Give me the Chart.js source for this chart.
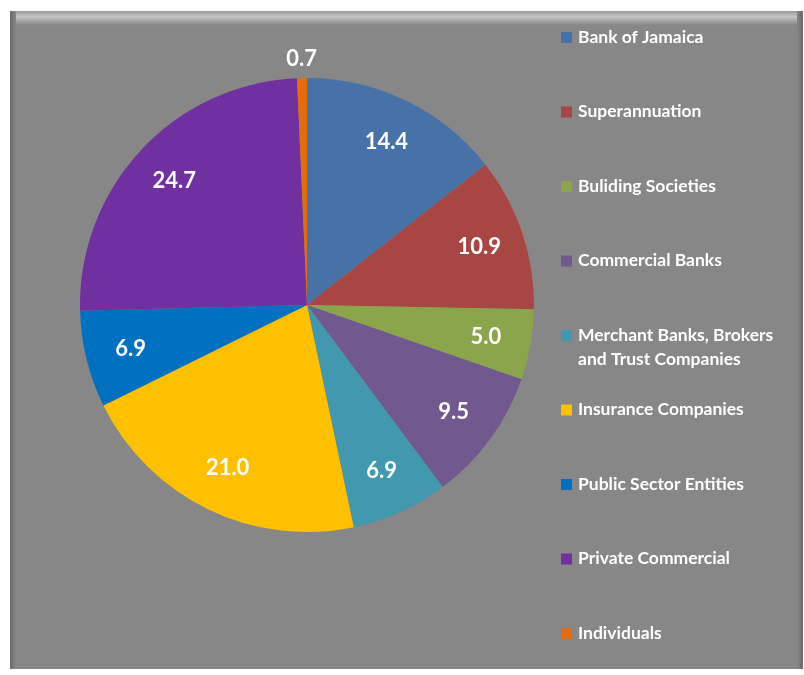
<!DOCTYPE html>
<html>
<head>
<meta charset="utf-8">
<script src="https://cdn.jsdelivr.net/npm/chart.js@4.4.0/dist/chart.umd.min.js"></script>
<style>
  html, body { margin: 0; padding: 0; background: #fff; }
  #wrap { width: 804px; height: 675px; position: relative; }
</style>
</head>
<body>
<div id="wrap"><canvas id="pie" width="804" height="675"></canvas></div>
<script>
// --- chart data ---
const categories = ['Bank of Jamaica', 'Superannuation', 'Buliding Societies', 'Commercial Banks',
    'Merchant Banks, Brokers\nand Trust Companies', 'Insurance Companies', 'Public Sector Entities',
    'Private Commercial', 'Individuals'];
const shares = [14.4, 10.9, 5.0, 9.5, 6.9, 21.0, 6.9, 24.7, 0.7];
const sliceColors = ['#4672A8', '#A84644', '#8BA54A', '#71588F', '#4298AE', '#FFC000', '#0070C0', '#7030A0', '#E46C0A'];

const FONT = 'Lato, "Open Sans", sans-serif';

// grey bevelled panel behind everything
const panelPlugin = {
    id: 'panel',
    beforeDraw(chart) {
        const ctx = chart.ctx;
        ctx.save();
        ctx.fillStyle = '#ffffff';
        ctx.fillRect(0, 0, chart.width, chart.height);
        const x0 = 10, y0 = 11, x1 = 803, y1 = 669;
        ctx.fillStyle = '#878787';
        ctx.fillRect(x0, y0, x1 - x0, y1 - y0);
        // top highlight
        let g = ctx.createLinearGradient(0, y0, 0, y0 + 14);
        g.addColorStop(0, '#9a9a9a');
        g.addColorStop(0.4, '#c4c4c4');
        g.addColorStop(1, '#878787');
        ctx.fillStyle = g;
        ctx.fillRect(x0 + 6, y0, x1 - x0 - 12, 14);
        // left shade
        g = ctx.createLinearGradient(x0, 0, x0 + 6, 0);
        g.addColorStop(0, '#6a6a6a');
        g.addColorStop(1, '#878787');
        ctx.fillStyle = g;
        ctx.fillRect(x0, y0, 6, y1 - y0);
        // right shade
        g = ctx.createLinearGradient(x1 - 6, 0, x1, 0);
        g.addColorStop(0, '#878787');
        g.addColorStop(1, '#6a6a6a');
        ctx.fillStyle = g;
        ctx.fillRect(x1 - 6, y0, 6, y1 - y0);
        ctx.restore();
    }
};

// value labels on the slices
const valueLabelPlugin = {
    id: 'valueLabels',
    afterDatasetsDraw(chart) {
        const ctx = chart.ctx;
        const arcs = chart.getDatasetMeta(0).data;
        ctx.save();
        ctx.font = 'bold 22px ' + FONT;
        ctx.fillStyle = '#ffffff';
        ctx.textAlign = 'center';
        ctx.textBaseline = 'middle';
        arcs.forEach((arc, i) => {
            const p = arc.getProps(['x', 'y', 'startAngle', 'endAngle', 'outerRadius'], true);
            const mid = (p.startAngle + p.endAngle) / 2;
            const r = shares[i] < 2 ? p.outerRadius + 19 : p.outerRadius * 0.8;
            ctx.fillText(shares[i].toFixed(1), p.x + Math.cos(mid) * r, p.y + Math.sin(mid) * r);
        });
        ctx.restore();
    }
};

// legend down the right side
const legendPlugin = {
    id: 'sideLegend',
    afterDraw(chart) {
        const ctx = chart.ctx;
        ctx.save();
        ctx.font = 'bold 17.5px ' + FONT;
        ctx.textBaseline = 'middle';
        const xBox = 561, xText = 578, yFirst = 37, step = 74.5;
        categories.forEach((name, i) => {
            const lines = name.split('\n');
            const y = yFirst + i * step;
            ctx.fillStyle = sliceColors[i];
            ctx.fillRect(xBox, y - 5, 11, 11);
            ctx.fillStyle = '#ffffff';
            lines.forEach((ln, j) => ctx.fillText(ln, xText, y + j * 24));
        });
        ctx.restore();
    }
};

new Chart(document.getElementById('pie'), {
    type: 'pie',
    data: {
        labels: categories,
        datasets: [{
            data: shares,
            backgroundColor: sliceColors,
            borderWidth: 0
        }]
    },
    options: {
        responsive: false,
        animation: false,
        layout: { padding: { left: 80, right: 270, top: 78, bottom: 143 } },
        plugins: {
            legend: { display: false },
            tooltip: { enabled: false }
        }
    },
    plugins: [panelPlugin, valueLabelPlugin, legendPlugin]
});
</script>
</body>
</html>
